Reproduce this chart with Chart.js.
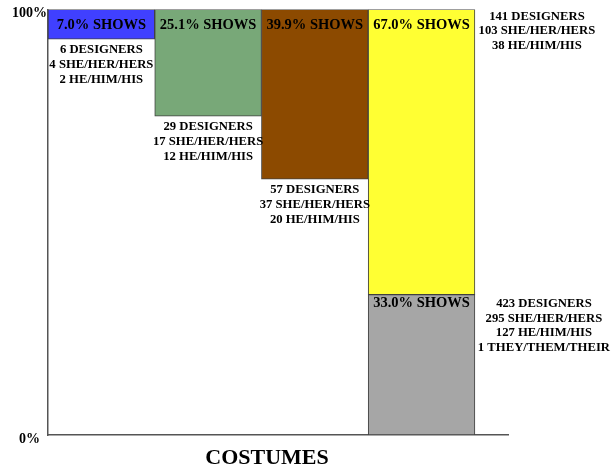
<!DOCTYPE html>
<html>
<head>
<meta charset="utf-8">
<script src="https://cdn.jsdelivr.net/npm/chart.js@4"></script>
<style>
  body { margin: 0; background: #fff; }
  canvas { display: block; }
</style>
</head>
<body>
<canvas id="chart" width="611" height="472"></canvas>
<script>
// share of shows per column (top part), last column also has a bottom part
const showPct = [7.0, 25.1, 39.9, 67.0];
const lowerPct = [33.0];
const topColors = ['#4040ff', '#78a878', '#8c4a00', '#ffff33'];
const lowerColors = ['#a6a6a6'];
const designerText = [
  ['6 DESIGNERS', '4 SHE/HER/HERS', '2 HE/HIM/HIS'],
  ['29 DESIGNERS', '17 SHE/HER/HERS', '12 HE/HIM/HIS'],
  ['57 DESIGNERS', '37 SHE/HER/HERS', '20 HE/HIM/HIS'],
  ['141 DESIGNERS', '103 SHE/HER/HERS', '38 HE/HIM/HIS']
];
const lowerText = [
  ['423 DESIGNERS', '295 SHE/HER/HERS', '127 HE/HIM/HIS', '1 THEY/THEM/THEIR']
];
const yTicks = [0, 100];
const xTitle = 'COSTUMES';

const SERIF = '"Liberation Serif", "Times New Roman", serif';

const labelPlugin = {
  id: 'barLabels',
  afterDatasetsDraw(chart) {
    const ctx = chart.ctx;
    const topBars = chart.getDatasetMeta(0).data;
    const lowBars = chart.getDatasetMeta(1).data;
    ctx.save();
    ctx.fillStyle = '#000';
    ctx.textAlign = 'center';
    ctx.textBaseline = 'middle';

    topBars.forEach((bar, i) => {
      const top = Math.min(bar.y, bar.base);
      const bottom = Math.max(bar.y, bar.base);
      ctx.font = 'bold 14.5px ' + SERIF;
      ctx.fillText(showPct[i].toFixed(1) + '% SHOWS', bar.x, top + 16);

      ctx.font = 'bold 12.7px ' + SERIF;
      // last column has its text out to the right
      if (i === topBars.length - 1) {
        const x = bar.x + bar.width / 2 + 62;
        designerText[i].forEach((t, k) => ctx.fillText(t, x, top + 7 + k * 14.7));
      } else {
        designerText[i].forEach((t, k) => ctx.fillText(t, bar.x, bottom + 11 + k * 14.6));
      }
    });

    lowBars.forEach((bar, i) => {
      const top = Math.min(bar.y, bar.base);
      ctx.font = 'bold 14.5px ' + SERIF;
      ctx.fillText(lowerPct[i].toFixed(1) + '% SHOWS', bar.x, top + 9);
      ctx.font = 'bold 12.7px ' + SERIF;
      const x = bar.x + bar.width / 2 + 69;
      lowerText[i].forEach((t, k) => ctx.fillText(t, x, top + 9 + k * 14.7));
    });

    const area = chart.chartArea;
    ctx.font = 'bold 22px ' + SERIF;
    ctx.fillText(xTitle, area.left + 219, area.bottom + 23);
    ctx.restore();
  }
};

const lastX = showPct.length - 0.5;

new Chart(document.getElementById('chart'), {
  type: 'bar',
  data: {
    datasets: [
      {
        data: showPct.map((p, i) => ({ x: i + 0.5, y: [100 - p, 100] })),
        backgroundColor: topColors,
        borderColor: '#404040',
        borderWidth: 1,
        borderSkipped: false,
        grouped: false,
        barPercentage: 1,
        categoryPercentage: 1
      },
      {
        data: lowerPct.map(p => ({ x: lastX, y: [0, p] })),
        backgroundColor: lowerColors,
        borderColor: '#404040',
        borderWidth: 1,
        borderSkipped: false,
        grouped: false,
        barPercentage: 1,
        categoryPercentage: 1
      }
    ]
  },
  options: {
    responsive: false,
    animation: false,
    layout: { padding: { top: 9, right: 103, left: 0, bottom: 0 } },
    plugins: { legend: { display: false }, tooltip: { enabled: false } },
    scales: {
      x: {
        type: 'linear',
        offset: false,
        min: 0,
        max: 4.31,
        grid: { display: false, drawTicks: false },
        border: { display: true, color: '#555', width: 1.5 },
        ticks: { display: false },
        afterBuildTicks: s => { s.ticks = [0, 1, 2, 3, 4].map(v => ({ value: v })); },
        afterFit: s => { s.height = 37; }
      },
      y: {
        min: 0,
        max: 100,
        grid: { display: false, drawTicks: false },
        border: { display: true, color: '#555', width: 1.5 },
        afterBuildTicks: s => { s.ticks = yTicks.map(v => ({ value: v })); },
        afterFit: s => { s.width = 48; },
        ticks: {
          padding: 1,
          crossAlign: 'center',
          labelOffset: 4,
          color: '#000',
          font: { family: SERIF, weight: 'bold', size: 14 },
          callback: v => v + '%'
        }
      }
    }
  },
  plugins: [labelPlugin]
});
</script>
</body>
</html>
